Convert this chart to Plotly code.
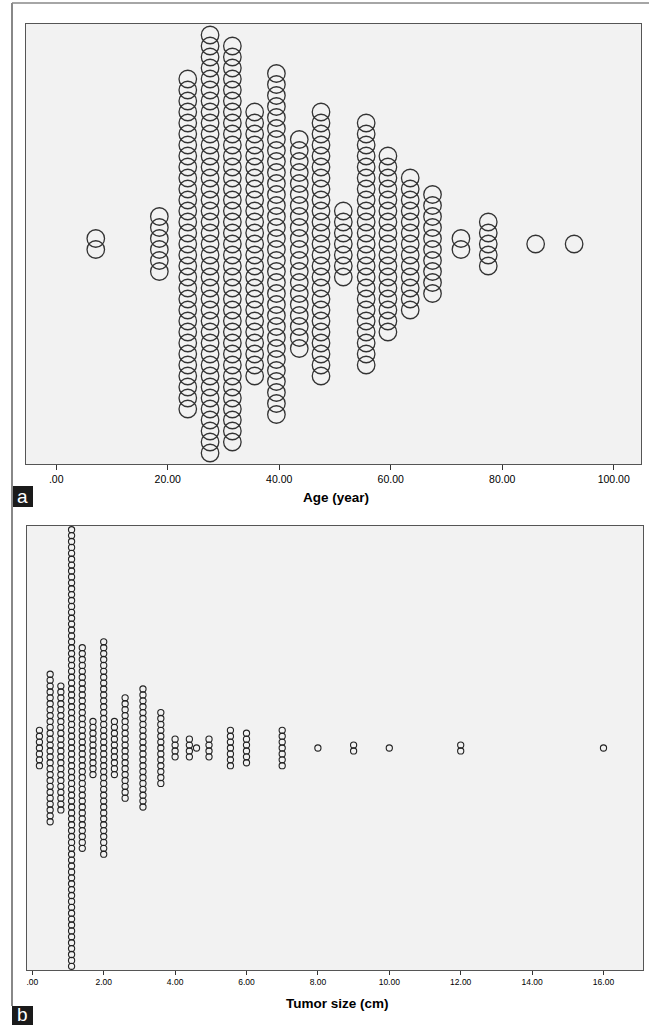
import plotly.graph_objects as go

# ---- data ----
age_bins = [7.1, 18.5, 23.6, 27.6, 31.6, 35.6, 39.5, 43.6, 47.5, 51.5, 55.6,
            59.5, 63.5, 67.5, 72.6, 77.5, 86.0, 92.9]
age_counts = [2, 6, 31, 39, 37, 25, 32, 20, 25, 7, 23, 17, 13, 10, 2, 5, 1, 1]

tumor_bins = [0.2, 0.5, 0.8, 1.1, 1.4, 1.7, 2.0, 2.3, 2.6, 3.1, 3.6, 4.0, 4.4,
              4.6, 4.95, 5.55, 6.0, 7.0, 8.0, 9.0, 10.0, 12.0, 16.0]
tumor_counts = [7, 26, 22, 75, 35, 10, 37, 10, 18, 21, 13, 4, 4, 1, 4, 7, 6, 7,
                1, 2, 1, 2, 1]

age_ticks = [0, 20, 40, 60, 80, 100]
age_ticklabels = [".00", "20.00", "40.00", "60.00", "80.00", "100.00"]
tumor_ticks = [0, 2, 4, 6, 8, 10, 12, 14, 16]
tumor_ticklabels = [".00", "2.00", "4.00", "6.00", "8.00", "10.00", "12.00", "14.00", "16.00"]


def stack(bins, counts):
    xs, ys = [], []
    for v, n in zip(bins, counts):
        for k in range(n):
            xs.append(v)
            ys.append(k - (n - 1) / 2.0)
    return xs, ys


W, H = 652, 1025


def px(x):
    return x / W


def py(y):
    return 1 - y / H


ax, ay = stack(age_bins, age_counts)
tx, ty = stack(tumor_bins, tumor_counts)

fig = go.Figure()
fig.add_trace(go.Scatter(
    x=ax, y=ay, mode="markers", xaxis="x", yaxis="y",
    marker=dict(symbol="circle-open", size=17.5, color="#333333",
                line=dict(width=1.3, color="#333333")),
    hoverinfo="x", showlegend=False))
fig.add_trace(go.Scatter(
    x=tx, y=ty, mode="markers", xaxis="x2", yaxis="y2",
    marker=dict(symbol="circle-open", size=6.2, color="#222222",
                line=dict(width=1.1, color="#222222")),
    hoverinfo="x", showlegend=False))

# plot areas in pixels
T_L, T_R, T_T, T_B = 26, 641, 24, 464
B_L, B_R, B_T, B_B = 27, 643, 526, 970

# top x scale: 0 -> 56.2 px, 5.575 px per year
t0, tppu = 56.2, 5.575
t_range = [-(t0 - T_L) / tppu, (T_R - t0) / tppu]
# bottom x scale: 0 -> 32.3 px, 35.7 px per cm
b0, bppu = 32.3, 35.7
b_range = [-(b0 - B_L) / bppu, (B_R - b0) / bppu]

t_step = 11.0
b_step = 5.9
t_half = (T_B - T_T) / 2 / t_step
b_half = (B_B - B_T) / 2 / b_step

axis_common = dict(showgrid=False, zeroline=False, showline=True, mirror=True,
                   linecolor="#555555", linewidth=1.3)

fig.update_layout(
    width=W, height=H,
    margin=dict(l=0, r=0, t=0, b=0),
    paper_bgcolor="white",
    plot_bgcolor="#f2f2f2",
    font=dict(family="Liberation Sans, Arial, sans-serif", color="black"),
    xaxis=dict(domain=[px(T_L), px(T_R)], range=t_range, anchor="y",
               tickmode="array", tickvals=age_ticks, ticktext=age_ticklabels,
               ticks="outside", ticklen=5, tickcolor="#333333",
               tickfont=dict(size=10.5), **axis_common),
    yaxis=dict(domain=[py(T_B), py(T_T)], range=[-t_half, t_half], anchor="x",
               showticklabels=False, ticks="", **axis_common),
    xaxis2=dict(domain=[px(B_L), px(B_R)], range=b_range, anchor="y2",
                tickmode="array", tickvals=tumor_ticks, ticktext=tumor_ticklabels,
                ticks="outside", ticklen=4, tickcolor="#333333",
                tickfont=dict(size=8.5), **axis_common),
    yaxis2=dict(domain=[py(B_B), py(B_T)], range=[-b_half, b_half], anchor="x2",
                showticklabels=False, ticks="", **axis_common),
)

fig.update_layout(
    annotations=[
        dict(text="<b>Age (year)</b>", x=px((T_L + T_R) / 2 + 2), y=py(497),
             xref="paper", yref="paper", showarrow=False,
             font=dict(size=13.5, family="Liberation Sans, Arial, sans-serif"),
             xanchor="center", yanchor="middle"),
        dict(text="<b>Tumor size (cm)</b>", x=px((B_L + B_R) / 2 + 2), y=py(1003),
             xref="paper", yref="paper", showarrow=False,
             font=dict(size=13.5, family="Liberation Sans, Arial, sans-serif"),
             xanchor="center", yanchor="middle"),
        dict(text="a", x=px(22.5), y=py(496), xref="paper", yref="paper",
             showarrow=False, font=dict(size=19, color="white",
                                        family="Liberation Sans, Arial, sans-serif"),
             xanchor="center", yanchor="middle"),
        dict(text="b", x=px(22.5), y=py(1014), xref="paper", yref="paper",
             showarrow=False, font=dict(size=19, color="white",
                                        family="Liberation Sans, Arial, sans-serif"),
             xanchor="center", yanchor="middle"),
    ],
    shapes=[
        dict(type="rect", xref="paper", yref="paper", x0=px(12), x1=px(33),
             y0=py(507), y1=py(486), fillcolor="#1a1a1a", line=dict(width=0),
             layer="above"),
        dict(type="rect", xref="paper", yref="paper", x0=px(12), x1=px(33),
             y0=py(1025), y1=py(1006), fillcolor="#1a1a1a", line=dict(width=0),
             layer="above"),
        dict(type="line", xref="paper", yref="paper", x0=px(12), x1=px(12),
             y0=py(3), y1=py(1006), line=dict(color="#888888", width=2)),
        dict(type="line", xref="paper", yref="paper", x0=px(12), x1=px(649),
             y0=py(3), y1=py(3), line=dict(color="#888888", width=1.5)),
    ],
)

fig.write_html("out.html",
               config={"displayModeBar": False},
               post_script="document.body.style.margin='0px';"
                           "document.body.style.overflow='hidden';")
